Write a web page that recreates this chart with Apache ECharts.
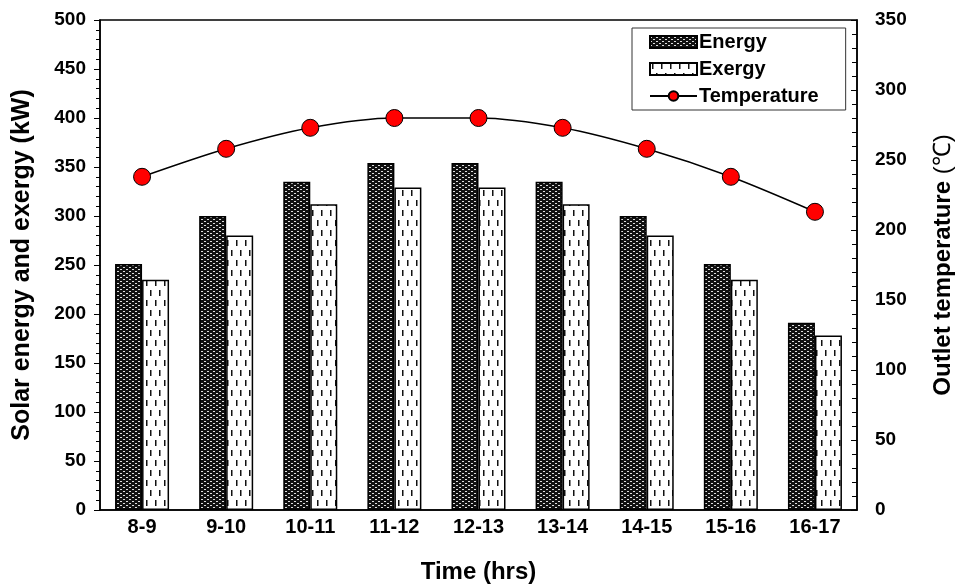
<!DOCTYPE html>
<html>
<head>
<meta charset="utf-8">
<script src="https://cdn.jsdelivr.net/npm/echarts@6/dist/echarts.min.js"></script>
<style>
  html, body { margin: 0; padding: 0; background: #fff; }
  #chart { width: 957px; height: 585px; }
</style>
</head>
<body>
<div id="chart"></div>
<script>
var hours = ['8-9', '9-10', '10-11', '11-12', '12-13', '13-14', '14-15', '15-16', '16-17'];
var energy = [251, 300, 335, 354, 354, 335, 300, 251, 191];
var exergy = [235, 280, 312, 329, 329, 312, 280, 235, 178];
var temperature = [238, 258, 273, 280, 280, 273, 258, 238, 213];

// dark checker pattern for energy bars
function energyPattern() {
    var c = document.createElement('canvas');
    c.width = 6; c.height = 4;
    var g = c.getContext('2d');
    g.fillStyle = '#111';
    g.fillRect(0, 0, 6, 4);
    g.fillStyle = '#ddd';
    g.fillRect(0, 1, 2, 1);
    g.fillRect(3, 3, 2, 1);
    return c;
}
// white with vertical dashes for exergy bars
function exergyPattern() {
    var c = document.createElement('canvas');
    c.width = 9; c.height = 20;
    var g = c.getContext('2d');
    g.fillStyle = '#fff';
    g.fillRect(0, 0, 9, 20);
    g.fillStyle = '#111';
    g.fillRect(2, 0, 1.5, 6);
    g.fillRect(6, 10, 1.5, 6);
    return c;
}

var font = "'Liberation Sans', Arial, sans-serif";
var chart = echarts.init(document.getElementById('chart'));

option = {
    backgroundColor: '#fff',
    textStyle: { fontFamily: font },
    grid: {
        left: 100, right: 100, top: 20, bottom: 75,
        containLabel: false,
        outerBoundsMode: 'none',
        show: true, borderColor: '#000', borderWidth: 1.5
    },
    legend: {
        orient: 'vertical',
        left: 632, top: 28,
        itemWidth: 47, itemHeight: 12,
        itemGap: 7,
        padding: [4, 27, 4, 17],
        borderColor: '#333', borderWidth: 1,
        backgroundColor: '#fff',
        textStyle: {
            fontSize: 20, fontWeight: 'bold', color: '#000', fontFamily: font,
            padding: [0, 0, 0, -3]
        },
        data: [
            { name: 'Energy', icon: 'rect' },
            { name: 'Exergy', icon: 'rect' },
            'Temperature'
        ]
    },
    xAxis: {
        type: 'category',
        data: hours,
        name: 'Time (hrs)',
        nameLocation: 'middle',
        nameGap: 50,
        nameTextStyle: { fontSize: 24, fontWeight: 'bold', color: '#000' },
        axisLine: { lineStyle: { color: '#000', width: 1.5 } },
        axisTick: { alignWithLabel: true, length: 5, lineStyle: { color: '#000' } },
        axisLabel: { fontSize: 20, fontWeight: 'bold', color: '#000', margin: 7 }
    },
    yAxis: [{
        type: 'value',
        min: 0, max: 500, interval: 50,
        name: 'Solar energy and exergy (kW)',
        nameLocation: 'middle',
        nameGap: 65,
        nameTextStyle: { fontSize: 25, fontWeight: 'bold', color: '#000' },
        axisLine: { show: true, lineStyle: { color: '#000', width: 1.5 } },
        axisTick: { show: true, length: 6, lineStyle: { color: '#000' } },
        minorTick: { show: true, splitNumber: 5, length: 4, lineStyle: { color: '#000' } },
        splitLine: { show: false },
        axisLabel: { fontSize: 19, fontWeight: 'bold', color: '#000', margin: 14 }
    }, {
        type: 'value',
        min: 0, max: 350, interval: 50,
        name: 'Outlet temperature {n|(℃)}',
        nameLocation: 'middle',
        nameGap: 74,
        nameRotate: 90,
        nameTextStyle: {
            fontSize: 24, fontWeight: 'bold', color: '#000',
            rich: { n: { fontSize: 24, fontWeight: 'normal', color: '#000' } }
        },
        axisLine: { show: true, lineStyle: { color: '#000', width: 1.5 } },
        axisTick: { show: true, inside: true, length: 6, lineStyle: { color: '#000' } },
        minorTick: { show: true, splitNumber: 5, length: 5, lineStyle: { color: '#000' } },
        splitLine: { show: false },
        axisLabel: { fontSize: 19, fontWeight: 'bold', color: '#000', margin: 18 }
    }],
    series: [{
        name: 'Energy',
        type: 'bar',
        data: energy,
        barWidth: 27,
        barGap: '0%',
        itemStyle: {
            color: { image: energyPattern(), repeat: 'repeat' },
            borderColor: '#000', borderWidth: 1.5
        }
    }, {
        name: 'Exergy',
        type: 'bar',
        data: exergy,
        barWidth: 27,
        itemStyle: {
            color: { image: exergyPattern(), repeat: 'repeat' },
            borderColor: '#000', borderWidth: 1.5
        }
    }, {
        name: 'Temperature',
        type: 'line',
        yAxisIndex: 1,
        data: temperature,
        smooth: 0.3,
        symbol: 'circle',
        symbolSize: 17,
        lineStyle: { color: '#000', width: 1.5 },
        itemStyle: { color: '#f00', borderColor: '#000', borderWidth: 1 }
    }]
};

chart.setOption(option);
</script>
</body>
</html>
